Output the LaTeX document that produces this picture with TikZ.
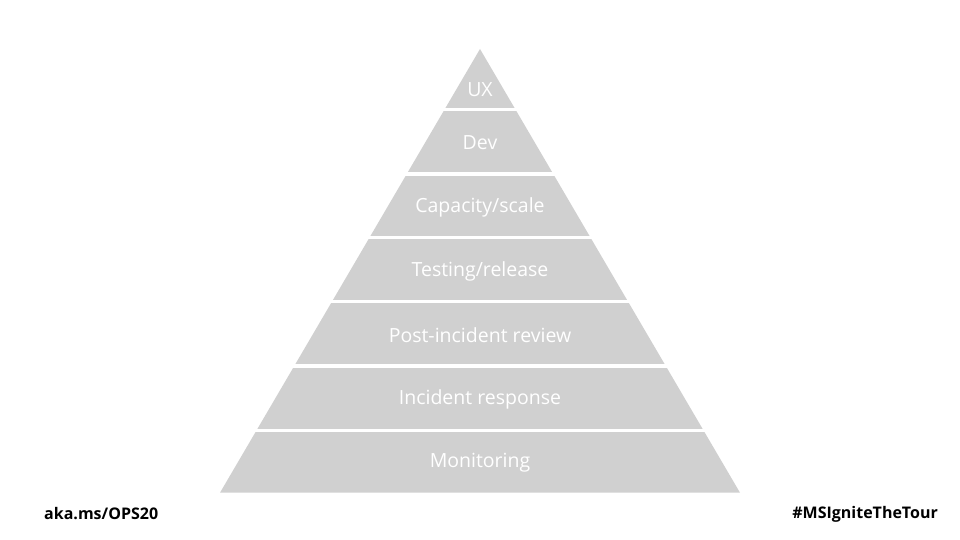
\documentclass[tikz,border=0pt]{standalone}
\usepackage{fontspec}
\setmainfont{Open Sans}
\definecolor{pyr}{RGB}{208,208,208}
\begin{document}
\begin{tikzpicture}[x=1pt,y=-1pt,
  lbl/.style={text=white,font=\fontsize{19.5}{22}\selectfont,inner sep=0pt,anchor=center},
  foot/.style={text=black,font=\fontsize{16}{18}\selectfont\bfseries,inner sep=0pt},
  gap/.style={fill=white,draw=none}]
\useasboundingbox (0,0) rectangle (960,540);
\fill[white] (0,0) rectangle (960,540);
% pyramid
\coordinate (apex) at (480,49);
\coordinate (bl) at (220,492.7);
\coordinate (br) at (740,492.7);
\fill[pyr] (apex) -- (br) -- (bl) -- cycle;
% white gaps between layers
\foreach \yy in {107.7,172.3,236.0,300.0,364.3,428.7}{
  \fill[gap] (200,\yy) rectangle (760,\yy+3.3);
}
\node[lbl] (ux) at (480,90) {UX};
\node[lbl] (dev) at (480,143) {Dev};
\node[lbl] (cap) at (480,207) {Capacity/scale};
\node[lbl] (test) at (480,271) {Testing/release};
\node[lbl] (post) at (480,335) {Post-incident review};
\node[lbl] (inc) at (480,399) {Incident response};
\node[lbl] (mon) at (480,463) {Monitoring};
\node[foot,anchor=west] (aka) at (44,514) {aka.ms/OPS20};
\node[foot,anchor=east] (tag) at (938,514) {\#MSIgniteTheTour};
\end{tikzpicture}
\end{document}
